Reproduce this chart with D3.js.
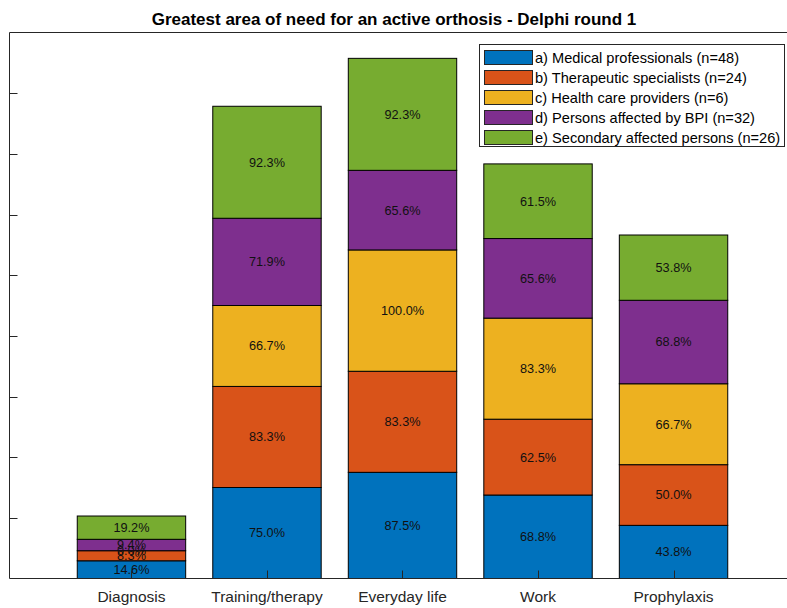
<!DOCTYPE html>
<html>
<head>
<meta charset="utf-8">
<script src="https://cdn.jsdelivr.net/npm/d3@7"></script>
<style>
  body { margin: 0; background: #fff; }
  text { font-family: "Liberation Sans", Arial, sans-serif; }
</style>
</head>
<body>
<div id="chart"></div>
<script>
// categories and groups
const categories = ["Diagnosis", "Training/therapy", "Everyday life", "Work", "Prophylaxis"];
const groups = [
  "a) Medical professionals (n=48)",
  "b) Therapeutic specialists (n=24)",
  "c) Health care providers (n=6)",
  "d) Persons affected by BPI (n=32)",
  "e) Secondary affected persons (n=26)"
];

// percentages per group, one value per category
const medical     = [14.6, 75.0, 87.5, 68.8, 43.8];
const therapeutic = [8.3, 83.3, 83.3, 62.5, 50.0];
const healthcare  = [0.0, 66.7, 100.0, 83.3, 66.7];
const affected    = [9.4, 71.9, 65.6, 65.6, 68.8];
const secondary   = [19.2, 92.3, 92.3, 61.5, 53.8];
const yTicks = [50, 100, 150, 200, 250, 300, 350, 400];

const series = [medical, therapeutic, healthcare, affected, secondary];
const colors = ["#0072BD", "#D95319", "#EDB120", "#7E2F8E", "#77AC30"];

const W = 787, H = 608;
const svg = d3.select("#chart").append("svg")
  .attr("width", W).attr("height", H);

// axes area
const axL = 9.5, axR = 795.5, axT = 32.5, axB = 578.5;

const x = d3.scaleLinear().domain([0.1, 5.9]).range([axL, axR]);
const y = d3.scaleLinear().domain([0, 450]).range([axB, axT]);
const unit = x(2) - x(1);
const barW = unit * 0.8;

// build stacked table
const table = categories.map((c, i) => {
  const row = {cat: c, idx: i + 1};
  groups.forEach((g, j) => row[g] = series[j][i]);
  return row;
});
const stacked = d3.stack().keys(groups)(table);

// bars
const layer = svg.append("g").selectAll("g")
  .data(stacked)
  .join("g")
  .attr("fill", (d, i) => colors[i]);

layer.selectAll("rect")
  .data(d => d)
  .join("rect")
  .attr("x", d => x(d.data.idx) - barW / 2)
  .attr("y", d => y(d[1]))
  .attr("width", barW)
  .attr("height", d => y(d[0]) - y(d[1]))
  .attr("stroke", "#000")
  .attr("stroke-width", 1);

// labels in segments
const labels = svg.append("g");
stacked.forEach(s => {
  s.forEach(d => {
    labels.append("text")
      .attr("x", x(d.data.idx))
      .attr("y", y((d[0] + d[1]) / 2))
      .attr("dy", "0.35em")
      .attr("text-anchor", "middle")
      .attr("font-size", 12.7)
      .attr("fill", "#111")
      .text((d[1] - d[0]).toFixed(1) + "%");
  });
});

// frame lines (left, bottom, top)
svg.append("line").attr("x1", axL).attr("x2", axL).attr("y1", axT).attr("y2", axB)
  .attr("stroke", "#262626");
svg.append("line").attr("x1", axL).attr("x2", W).attr("y1", axB).attr("y2", axB)
  .attr("stroke", "#262626");
svg.append("line").attr("x1", axL).attr("x2", W).attr("y1", axT).attr("y2", axT)
  .attr("stroke", "#262626");

// y ticks (no labels, inward)
svg.append("g").selectAll("line")
  .data(yTicks)
  .join("line")
  .attr("x1", axL).attr("x2", axL + 8)
  .attr("y1", d => Math.round(y(d)) + 0.5).attr("y2", d => Math.round(y(d)) + 0.5)
  .attr("stroke", "#262626");

// x ticks (inward) and labels
svg.append("g").selectAll("line")
  .data(categories)
  .join("line")
  .attr("x1", (d, i) => Math.round(x(i + 1)) + 0.5)
  .attr("x2", (d, i) => Math.round(x(i + 1)) + 0.5)
  .attr("y1", axB).attr("y2", axB - 8)
  .attr("stroke", "#262626");

svg.append("g").selectAll("text")
  .data(categories)
  .join("text")
  .attr("x", (d, i) => x(i + 1))
  .attr("y", 602)
  .attr("text-anchor", "middle")
  .attr("font-size", 15.5)
  .attr("fill", "#262626")
  .text(d => d);

// title
svg.append("text")
  .attr("x", 394)
  .attr("y", 25)
  .attr("text-anchor", "middle")
  .attr("font-size", 17)
  .attr("font-weight", "bold")
  .attr("fill", "#000")
  .text("Greatest area of need for an active orthosis - Delphi round 1");

// legend
const lg = svg.append("g");
lg.append("rect")
  .attr("x", 479.5).attr("y", 44.5)
  .attr("width", 305).attr("height", 102)
  .attr("fill", "#fff").attr("stroke", "#262626");
groups.forEach((g, i) => {
  const cy = 57 + i * 20;
  lg.append("rect")
    .attr("x", 484.5).attr("y", cy - 6.5)
    .attr("width", 48).attr("height", 14)
    .attr("fill", colors[i]).attr("stroke", "#262626");
  lg.append("text")
    .attr("x", 535).attr("y", cy + 0.5)
    .attr("dy", "0.35em")
    .attr("font-size", 14.6)
    .attr("fill", "#000")
    .text(g);
});
</script>
</body>
</html>
